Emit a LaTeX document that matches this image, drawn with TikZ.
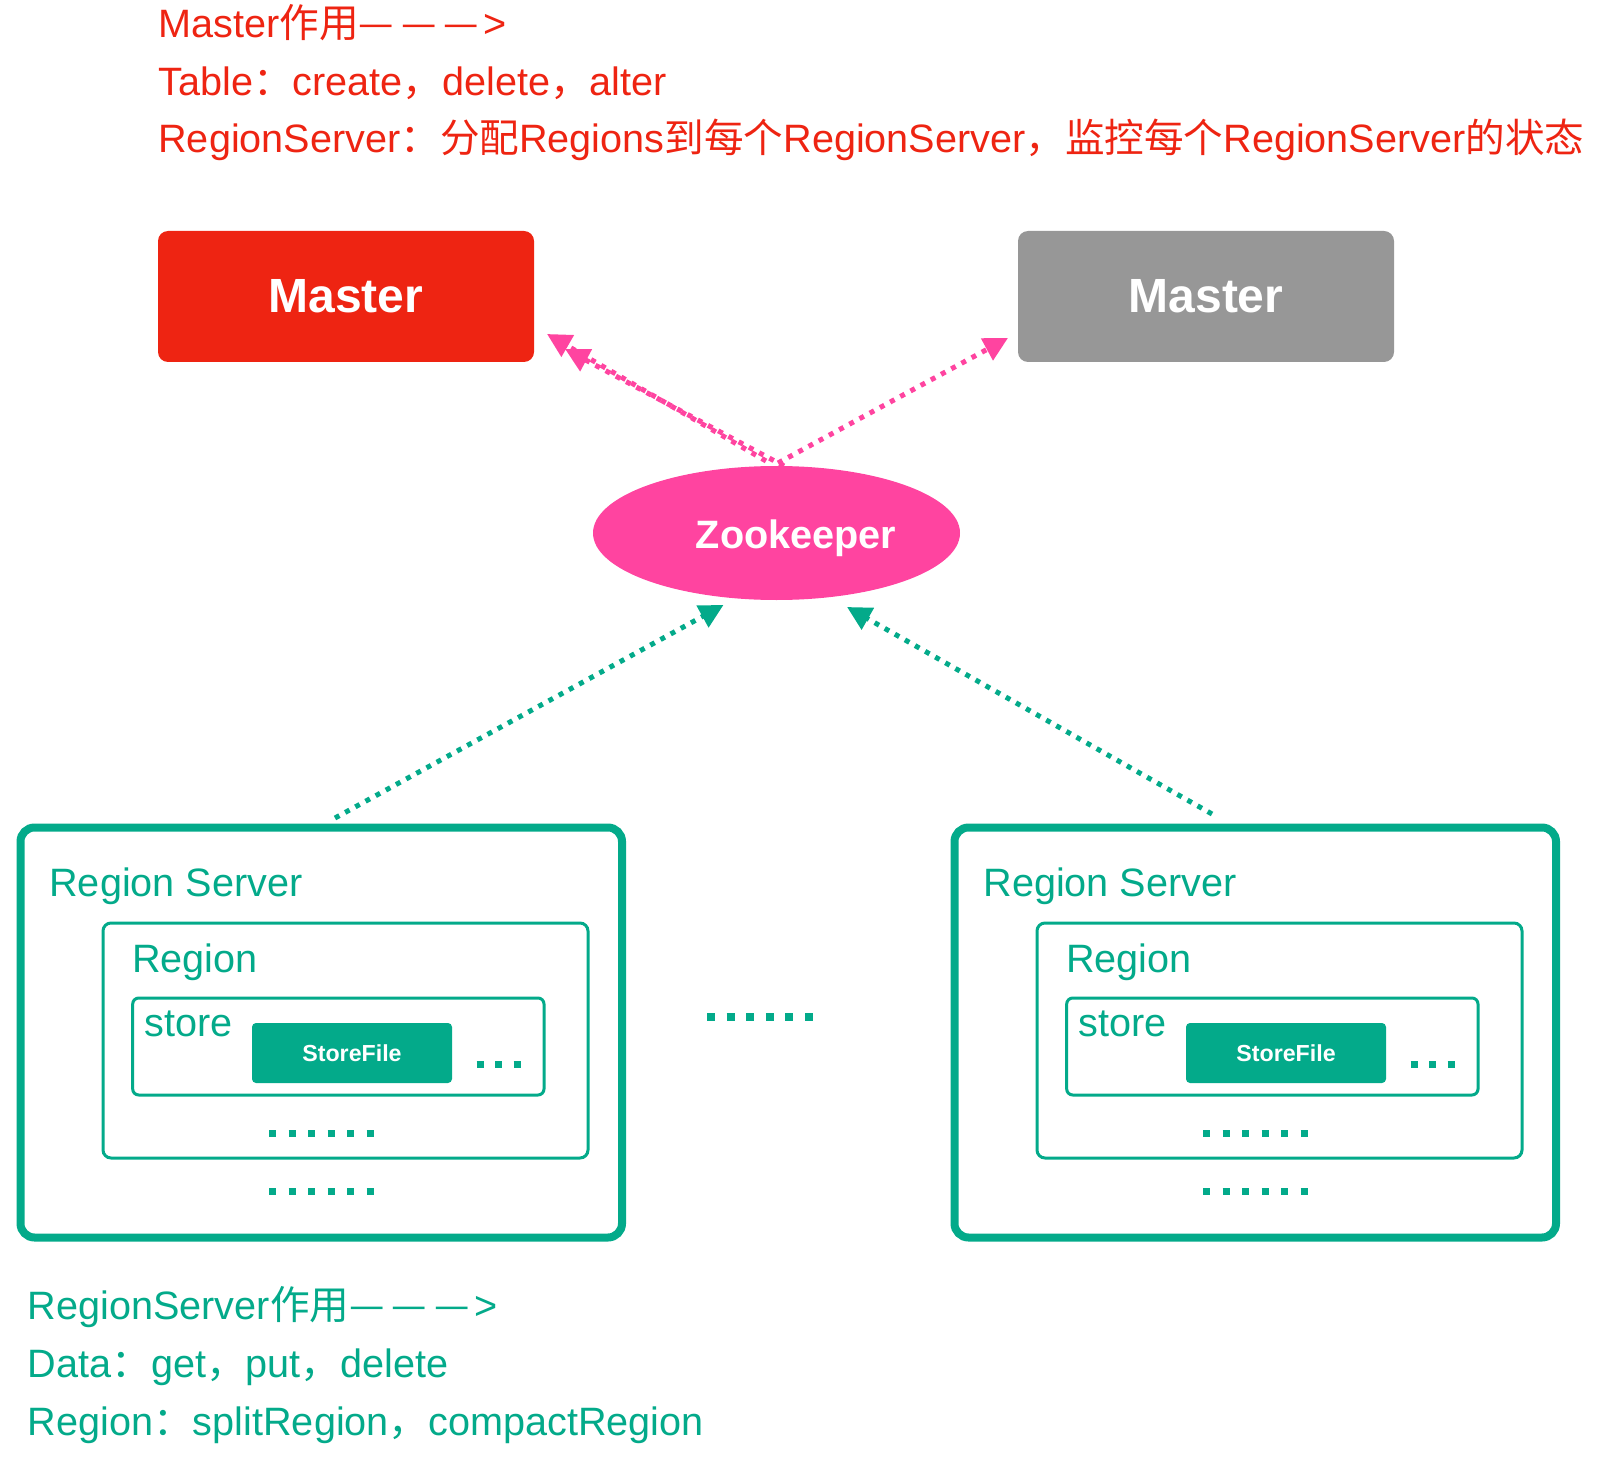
\documentclass[tikz,border=0pt]{standalone}
\usepackage{fontspec}
\setmainfont{Liberation Sans}
\newfontfamily\cjk{Noto Sans CJK SC}
\newcommand{\zhs}[1]{{\cjk #1}}
\newcommand{\longarrowtext}{\zhs{—\kern0.18em—\kern0.18em—}\kern0.12em>}
\usetikzlibrary{arrows.meta,shapes.geometric}
\definecolor{mred}{RGB}{238,36,18}
\definecolor{mgray}{RGB}{151,151,151}
\definecolor{zpink}{RGB}{255,68,160}
\definecolor{rgreen}{RGB}{3,170,138}
\tikzset{
  txt/.style={anchor=base west, inner sep=0pt, font=\fontsize{19.8pt}{23pt}\selectfont},
  redtxt/.style={txt, text=mred},
  greentxt/.style={txt, text=rgreen},
  masterbox/.style={rectangle, rounded corners=5pt, minimum width=188pt, minimum height=65.5pt, inner sep=0pt, text=white, font=\fontsize{24pt}{28pt}\selectfont\bfseries},
  rsbox/.style={rectangle, draw=rgreen, line width=4pt, rounded corners=7pt, minimum width=300.75pt, minimum height=205pt, inner sep=0pt},
  regbox/.style={rectangle, draw=rgreen, line width=1.5pt, rounded corners=4pt, minimum width=242.5pt, minimum height=117.5pt, inner sep=0pt},
  storebox/.style={rectangle, draw=rgreen, line width=1.5pt, rounded corners=3pt, minimum width=205.65pt, minimum height=48.5pt, inner sep=0pt},
  sfbox/.style={rectangle, fill=rgreen, rounded corners=2pt, minimum width=100pt, minimum height=30pt, inner sep=0pt, text=white, font=\fontsize{11.6pt}{14pt}\selectfont\bfseries},
  pinkarrow/.style={draw=zpink, line width=2.5pt, dash pattern=on 2.5pt off 3.3pt, -{Triangle[length=12pt,width=12pt]}},
  greenarrow/.style={draw=rgreen, line width=2.5pt, dash pattern=on 2.5pt off 3.3pt, -{Triangle[length=12pt,width=12pt]}},
  smalldots/.style={draw=rgreen, line width=3.5pt, dash pattern=on 3.5pt off 6.25pt},
  tinydots/.style={draw=rgreen, line width=3.5pt, dash pattern=on 3.5pt off 5.75pt},
  bigdots/.style={draw=rgreen, line width=4pt, dash pattern=on 4pt off 5.8pt}
}
\begin{document}
\begin{tikzpicture}[x=0.5pt,y=-0.5pt]
\useasboundingbox (0,0) rectangle (1600,1460);
% top text
\node[redtxt] (t1) at (158,38) {Master\zhs{作用}\longarrowtext};
\node[redtxt] (t2) at (158,96) {Table\zhs{：}create\zhs{，}delete\zhs{，}alter};
\node[redtxt] (t3) at (158,153) {RegionServer\zhs{：分配}Regions\zhs{到每个}RegionServer\zhs{，监控每个}RegionServer\zhs{的状态}};
% masters
\node[masterbox, fill=mred] (m1) at (346,296.5) {Master};
\node[masterbox, fill=mgray] (m2) at (1206,296.5) {Master};
% zookeeper
\node[ellipse, fill=zpink, minimum width=183.5pt, minimum height=67pt, inner sep=0pt] (zk) at (776.5,533) {};
\node[inner sep=0pt, text=white, font=\fontsize{19.8pt}{23pt}\selectfont\bfseries] (zkt) at (796,538) {Zookeeper};
% arrow coordinates
\coordinate (zkA) at (766,461);
\coordinate (zkB) at (784,466);
\coordinate (zkC) at (778,463);
\coordinate (m1tipA) at (547,334);
\coordinate (m1tipB) at (565,349);
\coordinate (m2tip) at (1008,338);
\coordinate (zkL) at (723.5,605);
\coordinate (zkR) at (847,607);
\coordinate (rs1top) at (335,818);
\coordinate (rs2top) at (1212,814);
\draw[pinkarrow] (zkA) -- (m1tipA);
\draw[pinkarrow] (zkB) -- (m1tipB);
\draw[pinkarrow] (zkC) -- (m2tip);
\draw[greenarrow] (rs1top) -- (zkL);
\draw[greenarrow] (rs2top) -- (zkR);
% left region server
\node[rsbox] (rs1) at (321.25,1032.5) {};
\node[greentxt] (rs1t) at (49,896) {Region Server};
\node[regbox] (rg1) at (345.5,1040.5) {};
\node[greentxt] (rg1t) at (131.6,972) {Region};
\node[storebox] (st1) at (338.35,1046.5) {};
\node[greentxt] (st1t) at (144,1036) {store};
\node[sfbox] (sf1) at (352,1053) {StoreFile};
\draw[tinydots] (476.5,1064) -- (520.5,1064);
\draw[smalldots] (269,1133) -- (373.5,1133);
\draw[smalldots] (269,1191) -- (373.5,1191);
% right region server
\node[rsbox] (rs2) at (1255.25,1032.5) {};
\node[greentxt] (rs2t) at (983,896) {Region Server};
\node[regbox] (rg2) at (1279.5,1040.5) {};
\node[greentxt] (rg2t) at (1065.6,972) {Region};
\node[storebox] (st2) at (1272.35,1046.5) {};
\node[greentxt] (st2t) at (1078,1036) {store};
\node[sfbox] (sf2) at (1286,1053) {StoreFile};
\draw[tinydots] (1410.5,1064) -- (1454.5,1064);
\draw[smalldots] (1203,1133) -- (1307.5,1133);
\draw[smalldots] (1203,1191) -- (1307.5,1191);
% middle dots
\draw[bigdots] (707,1017) -- (813,1017);
% bottom text
\node[greentxt] (b1) at (27.5,1319) {RegionServer\zhs{作用}\longarrowtext};
\node[greentxt] (b2) at (27.5,1377.5) {Data\zhs{：}get\zhs{，}put\zhs{，}delete};
\node[greentxt] (b3) at (27.5,1435) {Region\zhs{：}splitRegion\zhs{，}compactRegion};
\end{tikzpicture}
\end{document}
